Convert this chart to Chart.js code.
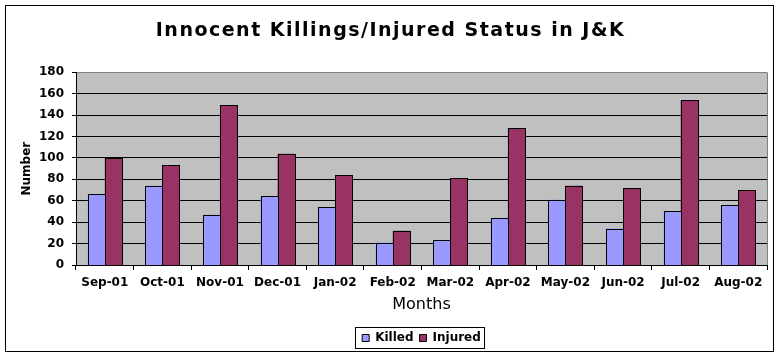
<!DOCTYPE html>
<html>
<head>
<meta charset="utf-8">
<script src="https://cdn.jsdelivr.net/npm/chart.js@4/dist/chart.umd.min.js"></script>
<style>
  html, body { margin: 0; padding: 0; background: #fff; }
  canvas { display: block; }
</style>
</head>
<body>
<canvas id="c" width="781" height="357"></canvas>
<script>
const categories = ['Sep-01','Oct-01','Nov-01','Dec-01','Jan-02','Feb-02','Mar-02','Apr-02','May-02','Jun-02','Jul-02','Aug-02'];
const killed  = [66, 74, 47, 64, 54, 21, 23, 44, 61, 34, 50, 56];
const injured = [100, 93, 149, 104, 84, 32, 81, 128, 74, 72, 154, 70];
const yMin = 0, yMax = 180, yStep = 20;

const FONT = 'DejaVu Sans';
const canvas = document.getElementById('c');
const ctx0 = canvas.getContext('2d');

// widen the title lettering (the reference uses a wide bold face)
const origFill = ctx0.fillText;
const origMeasure = ctx0.measureText;
function spacingFor(c) { return /\b19px\b/.test(c.font) ? '1.5px' : '0px'; }
ctx0.fillText = function (...args) { this.letterSpacing = spacingFor(this); return origFill.apply(this, args); };
ctx0.measureText = function (...args) { this.letterSpacing = spacingFor(this); return origMeasure.apply(this, args); };

const framePlugin = {
  id: 'frame',
  beforeDraw(chart) {
    const {ctx, chartArea: a} = chart;
    ctx.save();
    ctx.fillStyle = '#ffffff';
    ctx.fillRect(0, 0, chart.width, chart.height);
    ctx.fillStyle = '#C0C0C0';
    ctx.fillRect(a.left, a.top, a.right - a.left, a.bottom - a.top);
    ctx.restore();
  },
  afterDatasetsDraw(chart) {
    // crisp, pixel-snapped outlines on the library's own bar geometry
    const ctx = chart.ctx;
    ctx.save();
    chart.data.datasets.forEach((ds, di) => {
      const meta = chart.getDatasetMeta(di);
      meta.data.forEach(el => {
        const p = el.getProps(['x', 'y', 'base', 'width'], true);
        const l = Math.round(p.x - p.width / 2), r = Math.round(p.x + p.width / 2);
        const t = Math.round(Math.min(p.y, p.base)), b = Math.round(Math.max(p.y, p.base));
        ctx.fillStyle = ds.backgroundColor;
        ctx.fillRect(l, t, r - l, b - t);
        ctx.strokeStyle = '#000';
        ctx.lineWidth = 1;
        ctx.strokeRect(l + 0.5, t + 0.5, r - l, b - t);
      });
    });
    ctx.restore();
  },
  afterDraw(chart) {
    const {ctx, chartArea: a} = chart;
    ctx.save();
    ctx.strokeStyle = '#808080';
    ctx.lineWidth = 1;
    ctx.beginPath();
    ctx.moveTo(Math.round(a.right) + 0.5, Math.round(a.top) + 0.5);
    ctx.lineTo(Math.round(a.right) + 0.5, Math.round(a.bottom));
    ctx.stroke();
    ctx.strokeStyle = '#000';
    ctx.strokeRect(5.5, 5.5, 768, 346);
    const lg = chart.legend;
    if (lg && lg.legendHitBoxes && lg.legendHitBoxes.length) {
      const hb = lg.legendHitBoxes;
      let l = Infinity, r = -Infinity, t = Infinity, b = -Infinity;
      hb.forEach(h => { l = Math.min(l, h.left); r = Math.max(r, h.left + h.width); t = Math.min(t, h.top); b = Math.max(b, h.top + h.height); });
      ctx.strokeRect(Math.round(l - 7) + 0.5, Math.round(t - 5) + 0.5, Math.round(r - l + 10), Math.round(b - t + 9));
    }
    ctx.restore();
  }
};

new Chart(canvas, {
  type: 'bar',
  data: {
    labels: categories,
    datasets: [
      { label: 'Killed', data: killed, backgroundColor: '#9999FF', borderColor: '#000', borderWidth: 0, inflateAmount: 0, barPercentage: 1.0, categoryPercentage: 0.59 },
      { label: 'Injured', data: injured, backgroundColor: '#993366', borderColor: '#000', borderWidth: 0, inflateAmount: 0, barPercentage: 1.0, categoryPercentage: 0.59 }
    ]
  },
  options: {
    responsive: false,
    animation: false,
    devicePixelRatio: 1,
    layout: { padding: { left: 14, right: 14, top: 0, bottom: 3 } },
    plugins: {
      tooltip: { enabled: false },
      title: {
        display: true,
        text: 'Innocent Killings/Injured Status in J&K',
        color: '#000',
        font: { family: FONT, size: 19, weight: 'bold' },
        padding: { top: 20, bottom: 29.5 }
      },
      legend: {
        position: 'bottom',
        fullSize: false,
        labels: {
          color: '#000',
          font: { family: FONT, size: 12, weight: 'bold' },
          boxWidth: 7,
          boxHeight: 7,
          padding: 6,
          generateLabels(chart) {
            return chart.data.datasets.map((ds, i) => ({
              text: ds.label, fillStyle: ds.backgroundColor, strokeStyle: '#000', lineWidth: 1, datasetIndex: i, hidden: false
            }));
          }
        }
      }
    },
    scales: {
      x: {
        offset: true,
        border: { color: '#000', width: 1 },
        grid: { offset: true, drawOnChartArea: false, drawTicks: true, tickLength: 5, tickColor: '#000' },
        ticks: { color: '#000', font: { family: FONT, size: 12, weight: 'bold' }, padding: 6, maxRotation: 0 },
        title: { display: true, text: 'Months', color: '#000', font: { family: FONT, size: 16 }, padding: { top: 0, bottom: 12 } },
        afterFit(s) { s.height = 61; }
      },
      y: {
        min: yMin, max: yMax,
        border: { color: '#000', width: 1 },
        grid: {
          color: (c) => (c.tick && c.tick.value === yMax) ? '#808080' : '#000',
          tickColor: '#000', tickLength: 4, drawTicks: true
        },
        ticks: { stepSize: yStep, color: '#000', font: { family: FONT, size: 12, weight: 'bold' }, padding: 8 },
        title: { display: true, text: 'Number', color: '#000', font: { family: FONT, size: 12, weight: 'bold' }, padding: { top: 6, bottom: 0 } },
        afterFit(s) { s.width = 62; }
      }
    }
  },
  plugins: [framePlugin]
});
</script>
</body>
</html>
